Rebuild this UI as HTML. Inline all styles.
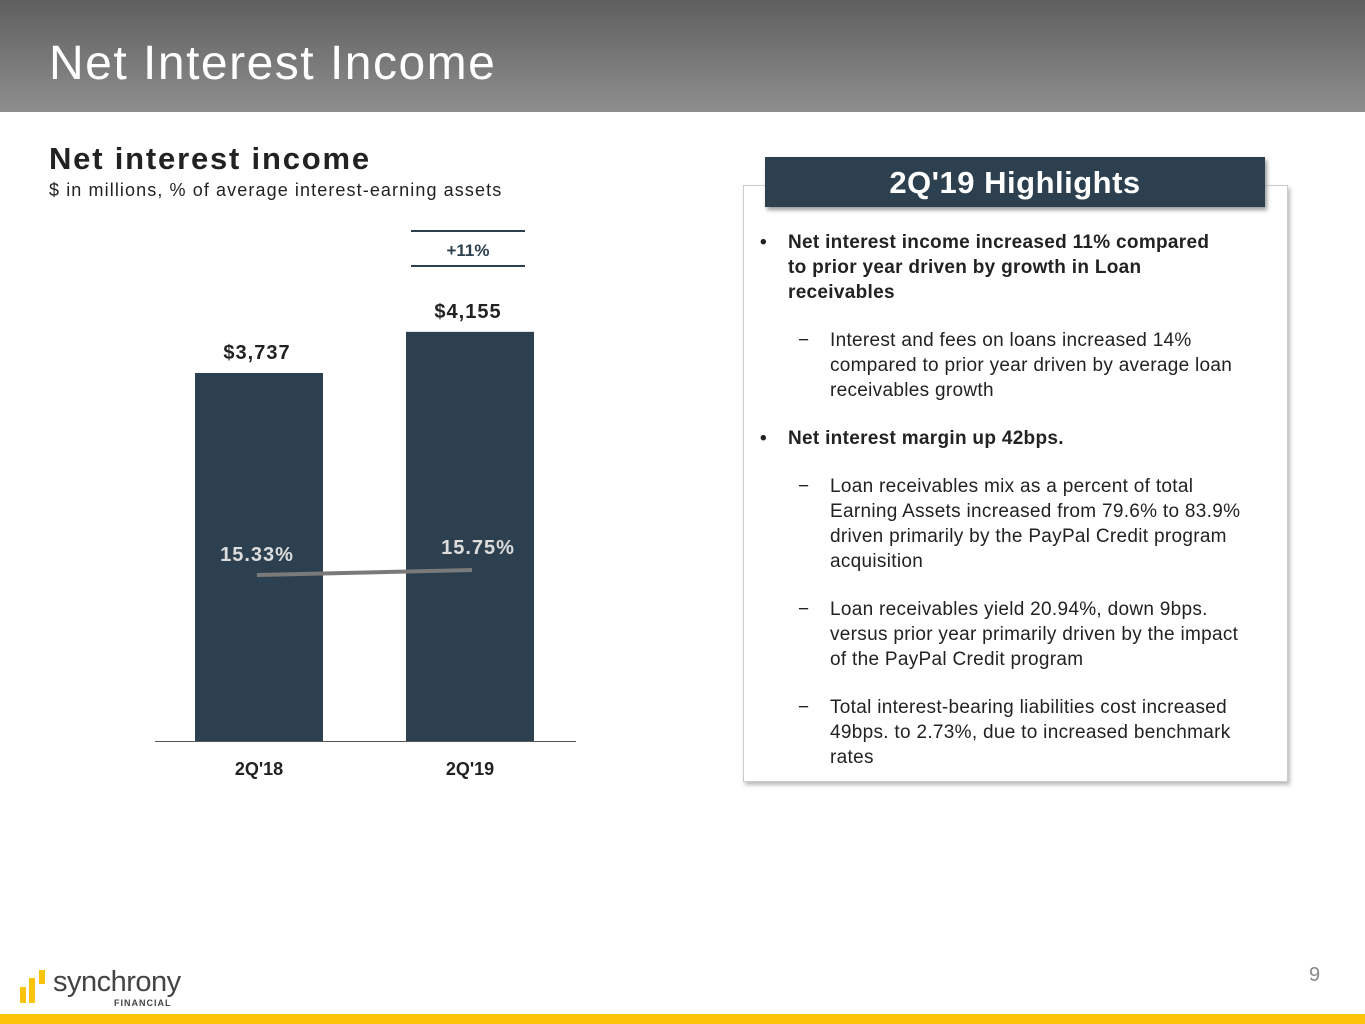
<!DOCTYPE html>
<html><head><meta charset="utf-8"><style>
body{margin:0;width:1365px;height:1024px;position:relative;overflow:hidden;background:#fff;font-family:"Liberation Sans",sans-serif;color:#222}
.abs{position:absolute}
.hdr{left:0;top:0;width:1365px;height:112px;background:linear-gradient(#5f5f5f,#8e8e8e)}
.ttl{left:49px;top:36px;font-size:48px;color:#fff;line-height:56px;letter-spacing:1.5px}
.b{font-weight:bold}
.li{font-size:19px;line-height:25px;white-space:nowrap}
.li div{letter-spacing:0.3px}
</style></head><body>
<div class="abs hdr"></div>
<div class="abs ttl">Net Interest Income</div>
<div class="abs b" style="left:49px;top:141px;font-size:31px;letter-spacing:1.8px">Net interest income</div>
<div class="abs" style="left:49px;top:180px;font-size:18px;letter-spacing:1.1px">$ in millions, % of average interest-earning assets</div>
<svg class="abs" style="left:0;top:0" width="740" height="800" id="chart"></svg>
<div class="abs" style="left:743px;top:185px;width:543px;height:595px;border:1px solid #ccc;box-shadow:2px 3px 4px #bbb"></div>
<div class="abs b" style="left:765px;top:157px;width:500px;height:50px;background:#2c4050;color:#fff;font-size:31px;text-align:center;line-height:52px;box-shadow:2px 3px 4px #999;letter-spacing:0.5px">2Q'19 Highlights</div>
<div class="abs li" style="left:760px;top:230px;width:500px">
<div style="position:relative;padding-left:28px" class="b"><span style="position:absolute;left:0">•</span>Net interest income increased 11% compared<br>to prior year driven by growth in Loan<br>receivables</div>
<div style="position:relative;padding-left:70px;margin-top:23px"><span style="position:absolute;left:38px">−</span>Interest and fees on loans increased 14%<br>compared to prior year driven by average loan<br>receivables growth</div>
<div style="position:relative;padding-left:28px;margin-top:23px" class="b"><span style="position:absolute;left:0">•</span>Net interest margin up 42bps.</div>
<div style="position:relative;padding-left:70px;margin-top:23px"><span style="position:absolute;left:38px">−</span>Loan receivables mix as a percent of total<br>Earning Assets increased from 79.6% to 83.9%<br>driven primarily by the PayPal Credit program<br>acquisition</div>
<div style="position:relative;padding-left:70px;margin-top:23px"><span style="position:absolute;left:38px">−</span>Loan receivables yield 20.94%, down 9bps.<br>versus prior year primarily driven by the impact<br>of the PayPal Credit program</div>
<div style="position:relative;padding-left:70px;margin-top:23px"><span style="position:absolute;left:38px">−</span>Total interest-bearing liabilities cost increased<br>49bps. to 2.73%, due to increased benchmark<br>rates</div>
</div>
<div class="abs" style="left:1309px;top:964px;font-size:20px;color:#888">9</div>
<div class="abs" style="left:20px;top:970px;width:180px;height:40px">
<div class="abs" style="left:0;top:17px;width:6px;height:16px;background:#fcc30b"></div>
<div class="abs" style="left:9px;top:8px;width:6px;height:25px;background:#fcc30b"></div>
<div class="abs" style="left:19px;top:0;width:6px;height:14px;background:#fcc30b"></div>
<div class="abs" style="left:33px;top:-4px;font-size:29px;color:#444;letter-spacing:-0.5px">synchrony</div>
<div class="abs b" style="left:94px;top:28px;font-size:9px;color:#444;letter-spacing:1px">FINANCIAL</div>
</div>
<div class="abs" style="left:0;top:1014px;width:1365px;height:10px;background:#fcc30b"></div>
<script>
const categories=["2Q'18","2Q'19"];
const nii=[3737,4155];
const niiLabels=["$3,737","$4,155"];
const margin=[15.33,15.75];
const marginLabels=["15.33%","15.75%"];
const NS="http://www.w3.org/2000/svg";
const svg=document.getElementById('chart');
const base=741, scale=368/3737;
const yB=v=>base-v*scale;
const xC=i=>259+i*211;
const yM=v=>575-(v-15.33)*(5/0.42);
function mk(t,a){const e=document.createElementNS(NS,t);for(const k in a)e.setAttribute(k,a[k]);svg.appendChild(e);return e;}
categories.forEach((c,i)=>{
 const r=mk('rect',{x:xC(i)-64,y:yB(nii[i]),width:128,height:base-yB(nii[i]),fill:'#2c4050'});
 
 
 const t=mk('text',{x:xC(i)-2,y:yB(nii[i])-14,'text-anchor':'middle','font-size':'20','font-weight':'bold',fill:'#222','letter-spacing':'1'});t.textContent=niiLabels[i];
 
 
 const l=mk('text',{x:xC(i),y:775,'text-anchor':'middle','font-size':'18','font-weight':'bold',fill:'#222'});l.textContent=c;
 
 
 const m=mk('text',{x:xC(i)+(i?8:-2),y:yM(margin[i])-(i?16:14),'text-anchor':'middle','font-size':'20','font-weight':'bold',fill:'#ddd','letter-spacing':'1'});m.textContent=marginLabels[i];
 
 
});
const ln=mk('line',{x1:xC(0)-2,y1:yM(margin[0]),x2:xC(1)+2,y2:yM(margin[1]),stroke:'#7a7a7a','stroke-width':4});


const ax=mk('line',{x1:155,y1:base+0.5,x2:576,y2:base+0.5,stroke:'#555','stroke-width':1});


[231,266].forEach(y=>{const g=mk('line',{x1:411,y1:y,x2:525,y2:y,stroke:'#2c4050','stroke-width':2});
 
 });
const gt=mk('text',{x:468,y:256,'text-anchor':'middle','font-size':'17','font-weight':'bold',fill:'#2c4050'});gt.textContent='+11%';


</script>
</body></html>
